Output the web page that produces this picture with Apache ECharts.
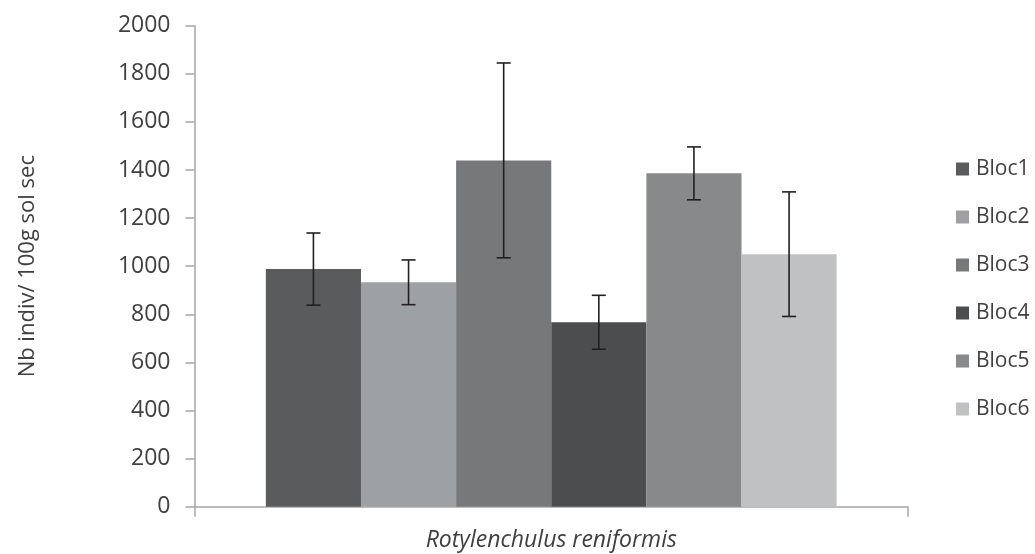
<!DOCTYPE html>
<html>
<head>
<meta charset="utf-8">
<script src="https://cdn.jsdelivr.net/npm/echarts@6/dist/echarts.min.js"></script>
<style>
html,body{margin:0;padding:0;background:#fff;}
#chart{width:1035px;height:554px;}
</style>
</head>
<body>
<div id="chart"></div>
<script>
// ---- data ----
var categories = ['Rotylenchulus reniformis'];
var seriesNames = ['Bloc1', 'Bloc2', 'Bloc3', 'Bloc4', 'Bloc5', 'Bloc6'];
var means = [988, 933, 1440, 767, 1386, 1050];
var errors = [150, 93, 405, 112, 110, 259];
var yTicks = [0, 200, 400, 600, 800, 1000, 1200, 1400, 1600, 1800, 2000];

// ---- styles ----
var colors = ['#5a5b5d', '#9ea1a3', '#77787a', '#4c4d4f', '#88898b', '#c0c1c2'];
var FONT = '"Open Sans", "Noto Sans", sans-serif';
var axisColor = '#a6a6a6';
var textColor = '#404040';
var catGap = 0.20;

var chart = echarts.init(document.getElementById('chart'), null, {renderer: 'canvas'});

var barSeries = seriesNames.map(function (name, i) {
  return {
    name: name,
    type: 'bar',
    data: [means[i]],
    barGap: '0%',
    barCategoryGap: (catGap * 100) + '%',
    itemStyle: {color: colors[i]},
    emphasis: {disabled: true},
    z: 2
  };
});

var errData = seriesNames.map(function (name, i) {
  return [0, means[i] - errors[i], means[i] + errors[i], i];
});

var errorSeries = {
  type: 'custom',
  data: errData,
  encode: {x: 0, y: [1, 2]},
  z: 5,
  silent: true,
  renderItem: function (params, api) {
    var cat = api.value(0);
    var lo = api.value(1);
    var hi = api.value(2);
    var idx = api.value(3);
    var band = api.size([1, 0])[0];
    var bw = band * (1 - catGap) / seriesNames.length;
    var offset = (idx - (seriesNames.length - 1) / 2) * bw;
    var pLo = api.coord([cat, lo]);
    var pHi = api.coord([cat, hi]);
    var x = pLo[0] + offset;
    var half = 7;
    var style = {stroke: '#231f20', lineWidth: 1.6};
    return {
      type: 'group',
      children: [
        {type: 'line', shape: {x1: x, y1: pHi[1], x2: x, y2: pLo[1]}, style: style},
        {type: 'line', shape: {x1: x - half, y1: pHi[1], x2: x + half, y2: pHi[1]}, style: style},
        {type: 'line', shape: {x1: x - half, y1: pLo[1], x2: x + half, y2: pLo[1]}, style: style}
      ]
    };
  }
};

var option = {
  animation: false,
  backgroundColor: '#ffffff',
  textStyle: {fontFamily: FONT},
  grid: {left: 194.5, right: 127, top: 25.7, bottom: 47.3, containLabel: false},
  legend: {
    data: seriesNames,
    orient: 'vertical',
    left: 951,
    top: 152,
    icon: 'rect',
    itemWidth: 13,
    itemHeight: 13,
    itemGap: 24,
    textStyle: {fontFamily: FONT, fontSize: 21, color: textColor, lineHeight: 24, padding: [0, 0, 0, 2]},
    selectedMode: false
  },
  xAxis: {
    type: 'category',
    data: categories,
    axisLine: {show: true, lineStyle: {color: axisColor, width: 1.5}},
    axisTick: {show: true, length: 10, inside: false, lineStyle: {color: axisColor, width: 1.5}},
    axisLabel: {fontFamily: FONT, fontSize: 23, fontStyle: 'italic', color: textColor, margin: 22},
    splitLine: {show: false}
  },
  yAxis: {
    type: 'value',
    min: yTicks[0],
    max: yTicks[yTicks.length - 1],
    interval: yTicks[1] - yTicks[0],
    name: 'Nb indiv/ 100g sol sec',
    nameLocation: 'middle',
    nameRotate: 90,
    nameGap: 156,
    nameTextStyle: {fontFamily: FONT, fontSize: 22, color: textColor, padding: [0, 0, 0, 0]},
    axisLine: {show: true, lineStyle: {color: axisColor, width: 1.5}},
    axisTick: {show: true, length: 9, inside: false, lineStyle: {color: axisColor, width: 1.5}},
    axisLabel: {
      fontFamily: FONT, fontSize: 23, color: textColor, margin: 24,
      formatter: function (v) { return String(v); }
    },
    splitLine: {show: false}
  },
  series: barSeries.concat([errorSeries])
};

chart.setOption(option);
</script>
</body>
</html>
